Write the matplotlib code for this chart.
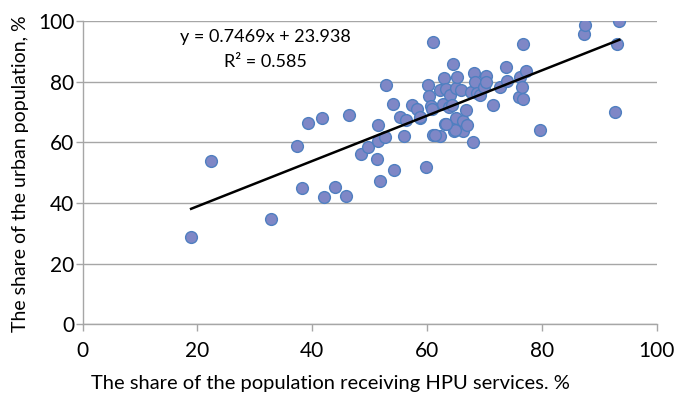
import matplotlib
matplotlib.use("Agg")
import matplotlib.pyplot as plt
import numpy as np

# Share of population receiving HPU services, %
hpu = [18.9, 22.4, 32.8, 37.3, 38.2, 39.2, 41.7, 42.0, 44.0, 45.8,
       46.4, 48.5, 49.7, 51.2, 51.5, 51.4, 51.8, 52.7, 52.8, 54.0,
       54.2, 55.3, 55.9, 56.4, 57.3, 58.3, 58.7, 59.8, 60.2, 60.4,
       60.7, 61.0, 60.9, 61.0, 62.2, 62.3, 62.9, 62.8, 63.1, 63.3,
       63.8, 64.0, 64.5, 64.5, 64.7, 64.3, 65.0, 65.3, 65.1, 66.0,
       66.3, 66.2, 66.7, 66.9, 67.6, 68.0, 68.1, 68.4, 68.7, 69.3,
       69.9, 70.2, 70.3, 71.5, 72.7, 73.8, 74.0, 76.1, 76.2, 76.6,
       76.7, 76.8, 77.3, 79.7, 87.3, 87.5, 92.7, 93.1, 93.5, 61.4,
       58.7, 64.8, 63.3]
# Share of urban population, %
urban = [28.8, 53.8, 34.7, 58.9, 44.8, 66.3, 67.9, 41.8, 45.2, 42.4,
         69.0, 56.2, 58.4, 54.6, 65.6, 60.4, 47.3, 61.8, 78.8, 72.5,
         50.8, 68.4, 62.1, 67.3, 72.3, 71.0, 68.1, 51.9, 78.9, 75.3,
         72.0, 93.0, 70.9, 62.5, 77.3, 62.2, 81.1, 72.7, 65.9, 77.5,
         71.6, 75.6, 85.8, 66.0, 63.8, 72.2, 77.8, 81.5, 68.1, 77.3,
         67.1, 63.8, 70.7, 65.7, 76.7, 60.0, 82.9, 80.0, 76.2, 75.7,
         78.1, 81.9, 80.0, 72.2, 78.1, 84.7, 80.3, 74.9, 81.4, 78.1,
         74.4, 92.5, 83.5, 64.1, 95.6, 98.8, 69.9, 92.4, 100.0, 62.4,
         68.3, 64.0, 66.0]

slope = 0.7469
intercept = 23.938
x_ticks = [0, 20, 40, 60, 80, 100]
y_ticks = [0, 20, 40, 60, 80, 100]

plt.rcParams['font.family'] = ['Lato', 'DejaVu Sans']

fig = plt.figure(figsize=(6.77, 3.94), dpi=100)
ax = fig.add_axes([0.122, 0.177, 0.848, 0.770])

grid_c = '#A6A6A6'
for yv in y_ticks:
    ax.axhline(yv, color=grid_c, lw=1.0, zorder=1)

ax.scatter(hpu, urban, s=72, facecolor='#7F87C6', edgecolor='#4F7FC0',
           linewidth=1.0, zorder=3)

xl = np.array([min(hpu), max(hpu)])
ax.plot(xl, slope * xl + intercept, color='black', lw=1.8, zorder=4)

ax.set_xlim(0, 100)
ax.set_ylim(0, 100)
ax.set_xticks(x_ticks)
ax.set_yticks(y_ticks)
ax.tick_params(axis='both', labelsize=15, color=grid_c, length=5, width=1.0)
ax.tick_params(axis='y', pad=1)
ax.tick_params(axis='x', pad=7)
for s in ['top', 'right']:
    ax.spines[s].set_visible(False)
for s in ['left', 'bottom']:
    ax.spines[s].set_color(grid_c)
    ax.spines[s].set_linewidth(1.0)
ax.spines['left'].set_bounds(0, 100)

ax.text(0.318, 0.947, 'y = 0.7469x + 23.938', transform=ax.transAxes,
        ha='center', va='center', fontsize=13)
ax.text(0.318, 0.866, 'R² = 0.585', transform=ax.transAxes,
        ha='center', va='center', fontsize=13)

fig.text(0.488, 0.006, 'The share of the population receiving HPU services. %',
         ha='center', va='bottom', fontsize=14.5)
fig.text(0.03, 0.56, 'The share of the urban population, %', rotation=90,
         ha='center', va='center', fontsize=14)

fig.savefig('out.png', dpi=100)
